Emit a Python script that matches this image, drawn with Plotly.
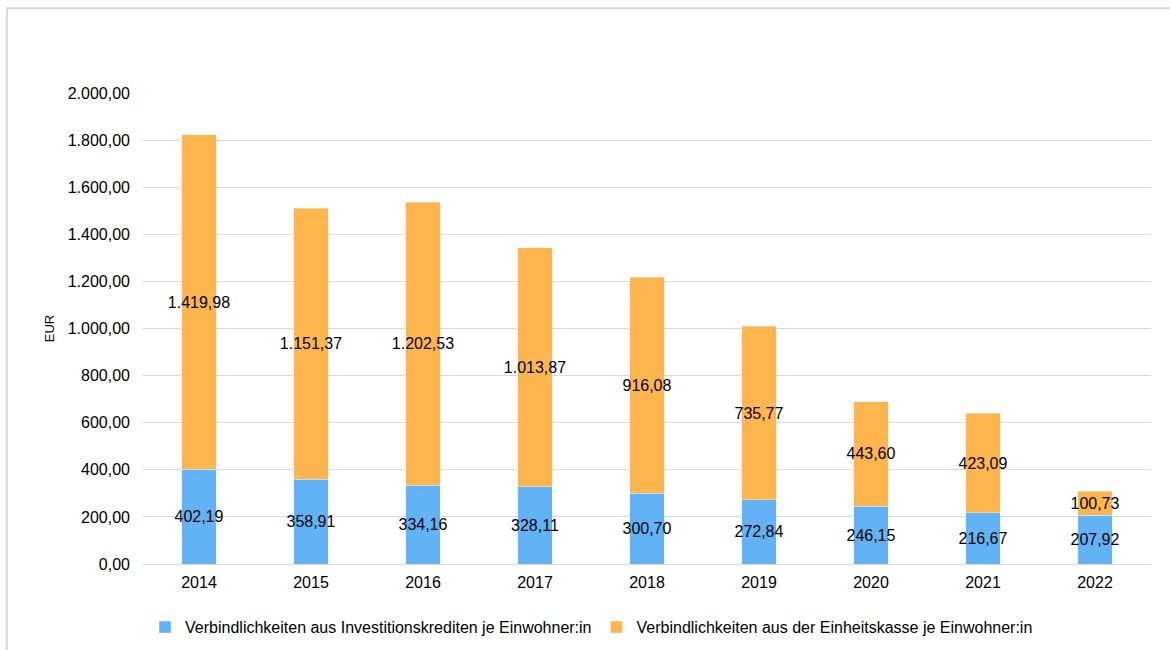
import plotly.graph_objects as go

years = ["2014", "2015", "2016", "2017", "2018", "2019", "2020", "2021", "2022"]
invest = [402.19, 358.91, 334.16, 328.11, 300.70, 272.84, 246.15, 216.67, 207.92]
kasse = [1419.98, 1151.37, 1202.53, 1013.87, 916.08, 735.77, 443.60, 423.09, 100.73]
name_invest = "Verbindlichkeiten aus Investitionskrediten je Einwohner:in"
name_kasse = "Verbindlichkeiten aus der Einheitskasse je Einwohner:in"
tick_vals = [0, 200, 400, 600, 800, 1000, 1200, 1400, 1600, 1800, 2000]


def de(v):
    s = f"{v:,.2f}"
    return s.replace(",", "X").replace(".", ",").replace("X", ".")


fig = go.Figure()
fig.add_trace(go.Bar(x=years, y=invest, name=name_invest, marker_color="#62B3F5",
                     text=[de(v) for v in invest], textposition="inside",
                     insidetextanchor="middle", textangle=0,
                     textfont=dict(color="#000000", size=16)))
fig.add_trace(go.Bar(x=years, y=kasse, name=name_kasse, marker_color="#FFB54D",
                     text=[de(v) for v in kasse], textposition="inside",
                     insidetextanchor="middle", textangle=0,
                     textfont=dict(color="#000000", size=16)))

fig.update_layout(
    barmode="stack",
    bargap=0.69,
    width=1170, height=650,
    margin=dict(l=143, r=19, t=93, b=86, autoexpand=False),
    paper_bgcolor="white", plot_bgcolor="white",
    font=dict(family="Liberation Sans, Arial, sans-serif", size=16, color="#000000"),
    separators=",.",
    uniformtext=dict(minsize=16, mode="show"),
    showlegend=True,
    legend=dict(orientation="h", x=0.445, xanchor="center", y=-0.134, yanchor="middle",
                font=dict(size=16), traceorder="normal", itemwidth=30),
    xaxis=dict(showgrid=False, showline=False, ticks="", tickfont=dict(size=16),
               ticklabelstandoff=7),
    yaxis=dict(range=[0, 2000], tickvals=tick_vals, tickformat=",.2f",
               showgrid=True, gridcolor="#d9d9d9", gridwidth=1,
               zeroline=True, zerolinecolor="#d9d9d9", zerolinewidth=1,
               ticks="", ticklen=0, tickfont=dict(size=16), ticklabelstandoff=12,
               title=dict(text="EUR", font=dict(size=13), standoff=10)),
    shapes=[dict(type="rect", xref="paper", yref="paper",
                 x0=-0.135, x1=1.2, y0=-0.3, y1=1.18,
                 line=dict(color="#d9d9d9", width=2), fillcolor="rgba(0,0,0,0)",
                 layer="below")],
)

fig.write_html("out.html", config={"displayModeBar": False},
               post_script="document.body.style.margin='0';document.body.style.padding='0';")
